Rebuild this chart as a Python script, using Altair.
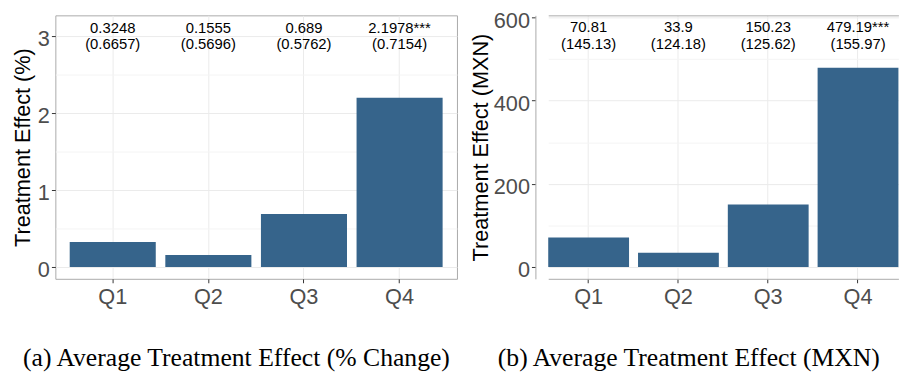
import altair as alt
import pandas as pd

quartiles = ["Q1", "Q2", "Q3", "Q4"]
est_pct = [0.3248, 0.1555, 0.689, 2.1978]
se_pct = [0.6657, 0.5696, 0.5762, 0.7154]
est_mxn = [70.81, 33.9, 150.23, 479.19]
se_mxn = [145.13, 124.18, 125.62, 155.97]
stars = ["", "", "", "***"]
label_y_pct = 3.0
label_y_mxn = 557
pct_grid = [0, 0.5, 1, 1.5, 2, 2.5, 3]
mxn_grid = [0, 100, 200, 300, 400, 500, 600]
pct_domain = [-0.155, 3.27]
mxn_domain = [-28.5, 605]

BAR = "#36648B"
BORDER = "#aaaaaa"
FONT = "Liberation Sans"


def make_df(est, se, ly):
    return pd.DataFrame({
        "q": quartiles,
        "est": est,
        "lbl": [f"{e}{s}\n({v})" for e, s, v in zip(est, stars, se)],
        "ly": [ly] * len(quartiles),
    })


def panel(df, ytitle, grid, major, domain, caption, cap_x, width, tpad,
          xscale, boxed):
    xax = alt.Axis(
        labelFontSize=22, labelColor="#4d4d4d", labelFont=FONT, labelAngle=0,
        labelPadding=4, tickColor="#333333", tickSize=4,
        domain=not boxed, domainColor=BORDER,
        gridColor="#ebebeb", grid=True,
        title=caption, titleFont="Liberation Serif", titleFontSize=26,
        titleFontWeight="normal", titleColor="black", titleX=cap_x, titleY=88,
        titleBaseline="alphabetic", titleAlign="center",
    )
    cond = f"datum.value % {major} === 0"
    yax = alt.Axis(
        values=grid, labelExpr=f"{cond} ? format(datum.value, 'd') : ''",
        labelFontSize=22, labelColor="#4d4d4d", labelFont=FONT, labelPadding=2,
        labelOffset=3, tickColor="#333333", tickSize=4,
        domain=not boxed, domainColor=BORDER,
        tickOpacity={"condition": {"test": cond, "value": 1}, "value": 0},
        gridColor={"condition": {"test": cond, "value": "#ebebeb"}, "value": "#f4f4f4"},
        title=ytitle, titleFont=FONT, titleFontSize=22, titleFontWeight="normal",
        titleColor="black", titlePadding=tpad,
    )
    x = alt.X("q:N", sort=quartiles, axis=xax, scale=xscale)
    y = alt.Y("est:Q", axis=yax, scale=alt.Scale(domain=domain, nice=False, zero=False))
    bars = alt.Chart(df).mark_bar(color=BAR).encode(x=x, y=y)
    if boxed:
        tx = alt.X("q:N", sort=quartiles)
    else:
        tx = alt.X("q:N", sort=quartiles, axis=alt.Axis(
            orient="top", labels=False, ticks=False, grid=False, title=None,
            domain=True, domainColor=BORDER))
    text = alt.Chart(df).mark_text(
        lineBreak="\n", fontSize=15, font=FONT, color="black", lineHeight=17,
        baseline="middle", dy=-8.5,
    ).encode(x=tx, y=alt.Y("ly:Q"), text="lbl:N")
    view = alt.ViewBackground(stroke=BORDER if boxed else "transparent", strokeWidth=1)
    layer = alt.layer(bars, text).properties(width=width, height=267, view=view)
    if not boxed:
        layer = layer.resolve_axis(x="independent")
    return layer


left = panel(make_df(est_pct, se_pct, label_y_pct), "Treatment Effect (%)",
             pct_grid, 1, pct_domain, "(a) Average Treatment Effect (% Change)", 183,
             407, 3, alt.Scale(paddingInner=0.1, paddingOuter=0.15), True)
right = panel(make_df(est_mxn, se_mxn, label_y_mxn), "Treatment Effect (MXN)",
              mxn_grid, 200, mxn_domain, "(b) Average Treatment Effect (MXN)", 155,
              369, 1, alt.Scale(paddingInner=0.1, paddingOuter=0, range=[13, 367.9]),
              False)

chart = alt.hconcat(left, right, spacing=10.5).properties(
    padding={"left": 3, "top": -2, "right": 0, "bottom": 0}
)

chart.save("out.html", embed_options={"renderer": "svg", "actions": False})
